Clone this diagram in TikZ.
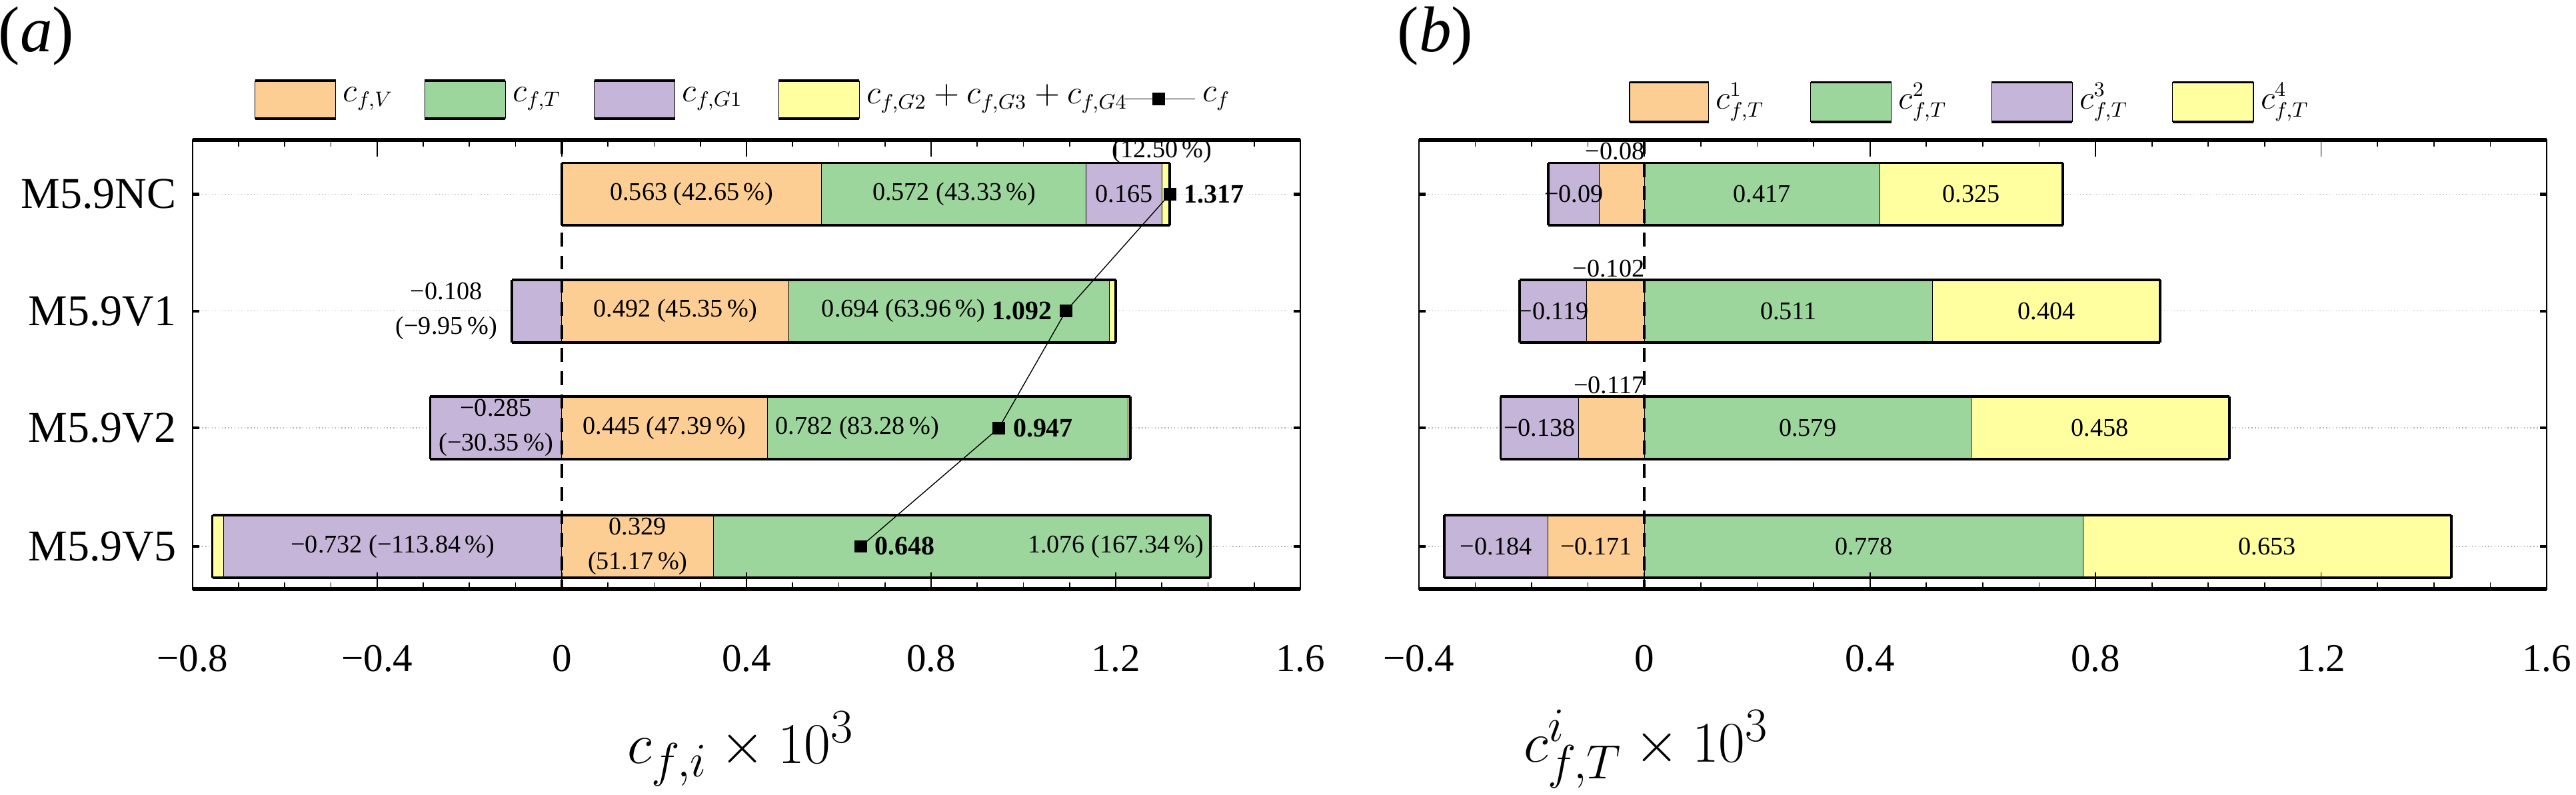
\documentclass[tikz,border=0pt]{standalone}
\usepackage{fontspec}
\setmainfont{Liberation Serif}
\usetikzlibrary{positioning}
\definecolor{cV}{HTML}{FDCE93}
\definecolor{cT}{HTML}{9DD69D}
\definecolor{cG}{HTML}{C5B5D8}
\definecolor{cY}{HTML}{FFFFA0}
\tikzset{
    seg/.style = {draw=black, line width=0.3pt},
    barframe/.style = {draw=black, line width=1.1pt},
    gridline/.style = {gray!60, densely dotted, line width=0.4pt},
    zeroline/.style = {dashed, line width=1.1pt, dash pattern=on 6pt off 4pt},
    val/.style = {font=\fontsize{11}{12}\selectfont, inner sep=1pt, align=center},
    bval/.style = {val, font=\fontsize{11.5}{12}\selectfont\bfseries},
    rowlab/.style = {font=\fontsize{19}{20}\selectfont, anchor=east},
    ticklab/.style = {font=\fontsize{17}{18}\selectfont},
    axtitle/.style = {font=\fontsize{28}{30}\selectfont},
    cfmark/.style = {fill=black, inner sep=0pt, minimum size=0.19cm},
    legbox/.style = {draw=black, line width=0.3pt},
    legtext/.style = {font=\fontsize{13.5}{14}\selectfont, anchor=west, inner sep=1pt},
    panlab/.style = {font=\fontsize{28}{30}\selectfont}
}
\begin{document}
\begin{tikzpicture}[x=0.025cm, y=-0.025cm]
    \useasboundingbox (0,0) rectangle (1565,483);

    % panel labels
    \node[panlab] (lab-a) at (22,22) {(\textit{a})};
    \node[panlab] (lab-b) at (872,22) {(\textit{b})};

    % legend (a)
    \foreach \l/\r/\c/\t [count=\i] in {155/204/cV/{$c_{f,V}$}, 258/307/cT/{$c_{f,T}$},
        361/410/cG/{$c_{f,G1}$}, 473/522/cY/{$c_{f,G2}+c_{f,G3}+c_{f,G4}$}}
        {
        \draw[legbox, fill=\c] (\l,49) rectangle (\r,72);
        \draw[line width=1.1pt] (\l,49) -- (\r,49) (\l,72) -- (\r,72);
        \node[legtext] (leg-a\i) at ([xshift=2pt]\r,60) {\t};
        }
    \coordinate (legcf-l) at (683,60);
    \coordinate (legcf-r) at (726,60);
    \draw (legcf-l) -- (legcf-r);
    \node[cfmark] (legcf) at (704,60) {};
    \node[legtext] (legcf-t) at ([xshift=2pt]726,60) {$c_f$};

    % legend (b)
    \foreach \l/\r/\c/\k [count=\i] in {990/1038/cV/1, 1100/1149/cT/2, 1210/1259/cG/3, 1320/1369/cY/4}
        {
        \draw[legbox, fill=\c] (\l,50) rectangle (\r,74);
        \draw[line width=1.1pt] (\l,50) -- (\r,50) (\l,74) -- (\r,74);
        \node[legtext] (leg-b\i) at ([xshift=2pt]\r,62) {$c_{f,T}^{\k}$};
        }

    % row labels
    \foreach \n/\y in {NC/118, V1/189, V2/260, V5/332}
        \node[rowlab] (row-\n) at (112,\y) {M5.9\n};

    % ---------- panel (a)
    \begin{scope}[shift={(341.3,0)}, x=7.01cm]
        \foreach \y in {118,189,260,332}
            \draw[gridline] (-0.8,\y) -- (1.6,\y);
        \foreach \y/\l/\r/\c in {%
            118/0/0.563/cV, 118/0.563/1.135/cT, 118/1.135/1.300/cG, 118/1.300/1.317/cY,
            189/-0.108/0/cG, 189/0/0.492/cV, 189/0.492/1.186/cT, 189/1.186/1.200/cY,
            260/-0.285/0/cG, 260/0/0.445/cV, 260/0.445/1.227/cT, 260/1.227/1.232/cY,
            332/-0.757/-0.732/cY, 332/-0.732/0/cG, 332/0/0.329/cV, 332/0.329/1.405/cT}
            \draw[seg, fill=\c] (\l,\y-19) rectangle (\r,\y+19);
        \foreach \y/\l/\r in {118/0/1.317, 189/-0.108/1.200, 260/-0.285/1.232, 332/-0.757/1.405}
            \draw[barframe] (\l,\y-19) -- (\r,\y-19) (\l,\y+19) -- (\r,\y+19)
                (\l,\y-19) -- (\l,\y+19) (\r,\y-19) -- (\r,\y+19);

        % frame and ticks
        \draw[line width=0.6pt] (-0.8,85) rectangle (1.6,358);
        \draw[line width=1.6pt] (-0.8,85) -- (1.6,85) (-0.8,358) -- (1.6,358);
        \foreach \t in {-0.7,-0.6,...,1.55}
            \draw[line width=0.5pt] (\t,85) -- (\t,89) (\t,358) -- (\t,354);
        \foreach \t/\s [count=\i] in {-0.8/−0.8, -0.4/−0.4, 0/0, 0.4/0.4, 0.8/0.8, 1.2/1.2, 1.6/1.6}
            {
            \draw[line width=0.5pt] (\t,85) -- (\t,95) (\t,358) -- (\t,348);
            \node[ticklab] (ta-\i) at (\t,400) {\s};
            }
        \foreach \y in {118,189,260,332}
            \draw[line width=1.2pt] (-0.8,\y) -- (-0.785,\y) (1.6,\y) -- (1.585,\y);
        \draw[zeroline] (0,85) -- (0,358);

        % values
        \node[val] (a-NC-V) at (0.2815,118) {0.563 (42.65\,\%)};
        \node[val] (a-NC-T) at (0.85,118) {0.572 (43.33\,\%)};
        \node[val] (a-NC-G) at (1.218,118) {0.165};
        \node[val] (a-NC-Y) at (1.30,92) {(12.50\,\%)};
        \node[val] (a-V1-G) at (-0.25,189) {−0.108\\[3pt](−9.95\,\%)};
        \node[val] (a-V1-V) at (0.246,189) {0.492 (45.35\,\%)};
        \node[val] (a-V1-T) at (0.74,189) {0.694 (63.96\,\%)};
        \node[val] (a-V2-G) at (-0.1425,260) {−0.285\\[3pt](−30.35\,\%)};
        \node[val] (a-V2-V) at (0.2225,260) {0.445 (47.39\,\%)};
        \node[val] (a-V2-T) at (0.64,260) {0.782 (83.28\,\%)};
        \node[val] (a-V5-G) at (-0.366,332) {−0.732 (−113.84\,\%)};
        \node[val] (a-V5-V) at (0.1645,332) {0.329\\[3pt](51.17\,\%)};
        \node[val] (a-V5-T) at (1.2,332) {1.076 (167.34\,\%)};

        % total c_f
        \foreach \n/\v/\y in {NC/1.317/118, V1/1.092/189, V2/0.947/260, V5/0.648/332}
            \node[cfmark] (cf-\n) at (\v,\y) {};
        \draw[line width=0.4pt] (cf-NC.center) -- (cf-V1.center) -- (cf-V2.center) -- (cf-V5.center);
        \node[bval, right=2pt of cf-NC] (cfv-NC) {1.317};
        \node[bval, left=2pt of cf-V1] (cfv-V1) {1.092};
        \node[bval, right=2pt of cf-V2] (cfv-V2) {0.947};
        \node[bval, right=2pt of cf-V5] (cfv-V5) {0.648};
    \end{scope}
    \node[axtitle] (xa) at (450,455) {$c_{f,i}\times 10^3$};

    % ---------- panel (b)
    \begin{scope}[shift={(999,0)}, x=8.5625cm]
        \foreach \y in {118,189,260,332}
            \draw[gridline] (-0.4,\y) -- (1.6,\y);
        \foreach \y/\l/\r/\c in {%
            118/-0.17/-0.08/cG, 118/-0.08/0/cV, 118/0/0.417/cT, 118/0.417/0.742/cY,
            189/-0.221/-0.102/cG, 189/-0.102/0/cV, 189/0/0.511/cT, 189/0.511/0.915/cY,
            260/-0.255/-0.117/cG, 260/-0.117/0/cV, 260/0/0.579/cT, 260/0.579/1.037/cY,
            332/-0.355/-0.171/cG, 332/-0.171/0/cV, 332/0/0.778/cT, 332/0.778/1.431/cY}
            \draw[seg, fill=\c] (\l,\y-19) rectangle (\r,\y+19);
        \foreach \y/\l/\r in {118/-0.17/0.742, 189/-0.221/0.915, 260/-0.255/1.037, 332/-0.355/1.431}
            \draw[barframe] (\l,\y-19) -- (\r,\y-19) (\l,\y+19) -- (\r,\y+19)
                (\l,\y-19) -- (\l,\y+19) (\r,\y-19) -- (\r,\y+19);

        % frame and ticks
        \draw[line width=0.6pt] (-0.4,85) rectangle (1.6,358);
        \draw[line width=1.6pt] (-0.4,85) -- (1.6,85) (-0.4,358) -- (1.6,358);
        \foreach \t in {-0.3,-0.2,...,1.55}
            \draw[line width=0.5pt] (\t,85) -- (\t,89) (\t,358) -- (\t,354);
        \foreach \t/\s [count=\i] in {-0.4/−0.4, 0/0, 0.4/0.4, 0.8/0.8, 1.2/1.2, 1.6/1.6}
            {
            \draw[line width=0.5pt] (\t,85) -- (\t,95) (\t,358) -- (\t,348);
            \node[ticklab] (tb-\i) at (\t,400) {\s};
            }
        \foreach \y in {118,189,260,332}
            \draw[line width=1.2pt] (-0.4,\y) -- (-0.388,\y) (1.6,\y) -- (1.588,\y);
        \draw[zeroline] (0,85) -- (0,358);

        % values
        \foreach \n/\y/\g/\gx/\o/\t/\tx/\u/\ux in {%
            NC/118/−0.09/-0.125/−0.08/0.417/0.2085/0.325/0.5795,
            V1/189/−0.119/-0.1615/−0.102/0.511/0.2555/0.404/0.713,
            V2/260/−0.138/-0.186/−0.117/0.579/0.2895/0.458/0.808}
            {
            \node[val] (b-\n-G) at (\gx,\y) {\g};
            \node[val] (b-\n-T) at (\tx,\y) {\t};
            \node[val] (b-\n-Y) at (\ux,\y) {\u};
            \node[val, anchor=south east] (b-\n-V) at (0.005,\y-19) {\o};
            }
        \node[val] (b-V5-G) at (-0.263,332) {−0.184};
        \node[val] (b-V5-V) at (-0.0855,332) {−0.171};
        \node[val] (b-V5-T) at (0.389,332) {0.778};
        \node[val] (b-V5-Y) at (1.1045,332) {0.653};
    \end{scope}
    \node[axtitle] (xb) at (1000,455) {$c_{f,T}^{i}\times 10^3$};
\end{tikzpicture}
\end{document}
